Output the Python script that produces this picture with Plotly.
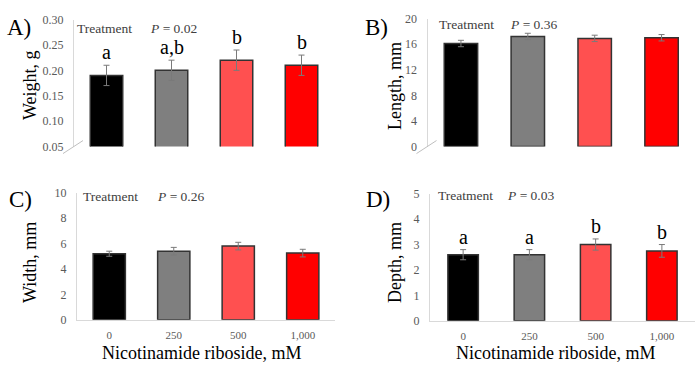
import plotly.graph_objects as go

# ---------------- data ----------------
categories = ["0", "250", "500", "1,000"]

weight = [0.19, 0.20, 0.22, 0.21]
weight_err = [0.02, 0.02, 0.02, 0.02]
weight_letters = ["a", "a,b", "b", "b"]

length = [16.1, 17.2, 16.9, 17.0]
length_err = [0.5, 0.5, 0.5, 0.5]

width_mm = [5.2, 5.4, 5.8, 5.25]
width_err = [0.2, 0.3, 0.3, 0.3]

depth = [2.6, 2.6, 3.0, 2.75]
depth_err = [0.2, 0.2, 0.22, 0.25]
depth_letters = ["a", "a", "b", "b"]

p_values = ["0.02", "0.36", "0.26", "0.03"]
panel_labels = ["A)", "B)", "C)", "D)"]
y_titles = ["Weight, g", "Length, mm", "Width, mm", "Depth, mm"]
x_title = "Nicotinamide riboside, mM"

bar_colors = ["#000000", "#7F7F7F", "#FF5050", "#FF0000"]

# ---------------- layout helpers ----------------
W, H = 700, 373
FONT = "Liberation Serif"


def px_x(p):
    return p / W


def px_y(p):
    return 1 - p / H


# pixel domains (left, right, top, bottom)
domains = [
    (74, 334, 13, 145),
    (427.5, 695, 12, 145),
    (77, 335, 193, 325),
    (430, 695, 194, 326),
]
y_ranges = [(0.05, 0.30), (0, 20), (0, 10), (0, 5)]
y_dticks = [0.05, 4, 2, 1]
y_formats = [".2f", "d", "d", "d"]
bar_widths = [0.5, 0.5, 0.5, 0.46]

series = [
    (weight, weight_err),
    (length, length_err),
    (width_mm, width_err),
    (depth, depth_err),
]

fig = go.Figure()

for i, (vals, errs) in enumerate(series):
    xa = "x" if i == 0 else f"x{i+1}"
    ya = "y" if i == 0 else f"y{i+1}"
    fig.add_trace(go.Bar(
        x=categories, y=vals,
        xaxis=xa, yaxis=ya,
        width=bar_widths[i],
        marker=dict(color=bar_colors, line=dict(color="#333333", width=1.5)),
        error_y=dict(type="data", array=errs, visible=True,
                     color="#7A7A7A", thickness=1, width=3),
        showlegend=False,
        hoverinfo="skip",
    ))

    l, r, t, b = domains[i]
    xkey = "xaxis" if i == 0 else f"xaxis{i+1}"
    ykey = "yaxis" if i == 0 else f"yaxis{i+1}"
    has_x = i >= 2
    fig.update_layout({
        xkey: dict(
            domain=[px_x(l), px_x(r)],
            anchor=ya,
            type="category",
            range=[-0.5, 3.5],
            showline=has_x,
            linecolor="#D9D9D9",
            linewidth=1,
            showgrid=False,
            zeroline=False,
            showticklabels=has_x,
            ticks="outside" if has_x else "",
            ticklen=5,
            tickcolor="rgba(0,0,0,0)",
            tickfont=dict(family=FONT, size=11, color="#595959"),
            fixedrange=True,
        ),
        ykey: dict(
            domain=[px_y(b), px_y(t)],
            anchor=xa,
            range=list(y_ranges[i]),
            dtick=y_dticks[i],
            tick0=y_ranges[i][0],
            tickformat=y_formats[i],
            showline=True,
            linecolor="#D9D9D9",
            linewidth=1,
            showgrid=False,
            zeroline=False,
            ticks="outside",
            ticklen=7,
            tickcolor="rgba(0,0,0,0)",
            tickfont=dict(family=FONT, size=12, color="#595959"),
            fixedrange=True,
        ),
    })

    # panel label
    fig.add_annotation(
        x=px_x([5, 363, 7, 364][i]), y=px_y([21, 21, 200, 200][i]),
        xref="paper", yref="paper", xanchor="left", yanchor="middle",
        text=panel_labels[i], showarrow=False,
        font=dict(family=FONT, size=23, color="#000000"),
    )
    # y title
    fig.add_annotation(
        x=px_x([30, 395, 30, 395][i]), y=px_y([81, 82, 266, 266][i]),
        xref="paper", yref="paper", xanchor="center", yanchor="middle",
        text=y_titles[i], textangle=-90, showarrow=False,
        font=dict(family=FONT, size=18, color="#000000"),
    )
    # Treatment + P value
    fig.add_annotation(
        x=px_x([75, 437, 81, 436][i]), y=px_y([22, 18, 197, 196][i]),
        xref="paper", yref="paper", xanchor="left", yanchor="middle",
        text="Treatment", showarrow=False,
        font=dict(family=FONT, size=13.5, color="#404040"),
    )
    fig.add_annotation(
        x=px_x([148, 508, 155, 505][i]), y=px_y([22, 18, 197, 196][i]),
        xref="paper", yref="paper", xanchor="left", yanchor="middle",
        text=f"<i>P</i> = {p_values[i]}", showarrow=False,
        font=dict(family=FONT, size=13.5, color="#404040"),
    )

    # Excel-like floor stroke for panels A and B
    if not has_x:
        fig.add_shape(
            type="line", xref=f"{xa} domain", yref=f"{ya} domain",
            xsizemode="pixel", ysizemode="pixel", xanchor=0, yanchor=0,
            x0=-11, x1=9, y0=-7, y1=6,
            line=dict(color="#BFBFBF", width=1),
        )

# significance letters (x given as category index)
for i, letters, vals, errs in [(0, weight_letters, weight, weight_err),
                               (3, depth_letters, depth, depth_err)]:
    xa = "x" if i == 0 else f"x{i+1}"
    ya = "y" if i == 0 else f"y{i+1}"
    for j, (lt, v, e) in enumerate(zip(letters, vals, errs)):
        fig.add_annotation(
            x=j, y=v + e, xref=xa, yref=ya,
            xanchor="center", yanchor="bottom", yshift=0,
            text=lt, showarrow=False,
            font=dict(family=FONT, size=20, color="#000000"),
        )

# x titles
for cx in (201, 555):
    fig.add_annotation(
        x=px_x(cx), y=px_y(359.5), xref="paper", yref="paper",
        xanchor="center", yanchor="middle",
        text=x_title, showarrow=False,
        font=dict(family=FONT, size=18, color="#000000"),
    )

fig.update_layout(
    width=W, height=H,
    margin=dict(l=0, r=0, t=0, b=0),
    paper_bgcolor="white",
    plot_bgcolor="white",
    bargap=0.5,
)

fig.write_html("out.html", config={"displayModeBar": False},
               post_script="document.body.style.margin='0';")
